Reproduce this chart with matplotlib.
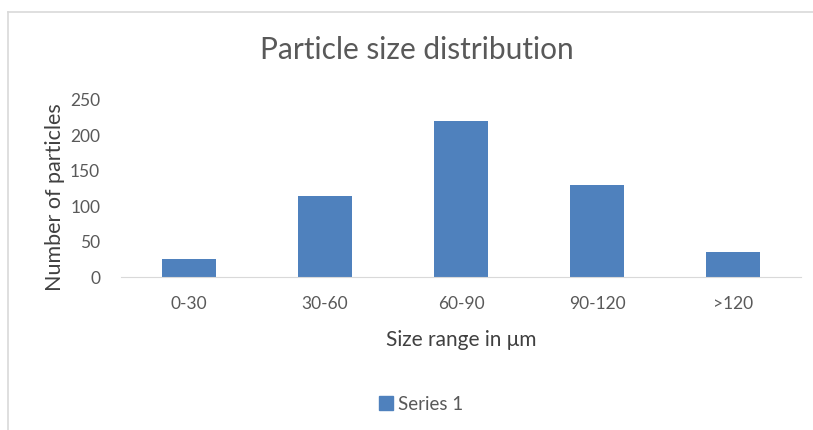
import matplotlib.pyplot as plt
import matplotlib.patches as mpatches
from matplotlib.lines import Line2D

# Data
categories = ["0-30", "30-60", "60-90", "90-120", ">120"]
counts = [25, 115, 220, 130, 35]
series_name = "Series 1"

plt.rcParams['font.family'] = ['Lato', 'DejaVu Sans']
W, H = 813, 430
fig = plt.figure(figsize=(W / 100, H / 100), dpi=100)

# chart border (Excel-like frame)
fig.add_artist(Line2D([8 / W, 8 / W], [0, 1 - 12 / H], color="#d9d9d9", lw=1.2))
fig.add_artist(Line2D([8 / W, 1], [1 - 12 / H, 1 - 12 / H], color="#d9d9d9", lw=1.2))

ax = fig.add_axes([121 / W, (H - 277) / H, (801 - 121) / W, (277 - 100) / H])
x = range(len(categories))
ax.bar(x, counts, width=0.4, color="#4f81bd", zorder=2)
ax.set_xlim(-0.5, len(categories) - 0.5)
ax.set_ylim(0, 250)
ax.set_yticks([0, 50, 100, 150, 200, 250])
ax.set_xticks(list(x))
ax.set_xticklabels(categories)
for s in ["top", "right", "left"]:
    ax.spines[s].set_visible(False)
ax.spines["bottom"].set_color("#d9d9d9")
ax.tick_params(axis="both", length=0, colors="#595959", labelsize=12.5)
ax.tick_params(axis="x", pad=14)
ax.tick_params(axis="y", pad=15)

fig.text(417 / W, 1 - 50 / H, "Particle size distribution", fontsize=21.5,
         color="#595959", ha="center", va="center")
fig.text(461 / W, 1 - 340 / H, "Size range in \u03bcm", fontsize=15,
         color="#404040", ha="center", va="center")
fig.text(55 / W, 1 - 197 / H, "Number of particles", fontsize=15.5,
         color="#404040", ha="center", va="center", rotation=90)

handle = mpatches.Patch(color="#4f81bd", label=series_name)
fig.legend(handles=[handle], loc="center", bbox_to_anchor=(421 / W, (H - 404) / H),
           frameon=False, fontsize=13.5, handlelength=0.75, handleheight=0.75,
           handletextpad=0.3, labelcolor="#595959")

fig.savefig("out.png", dpi=100, facecolor="white")
